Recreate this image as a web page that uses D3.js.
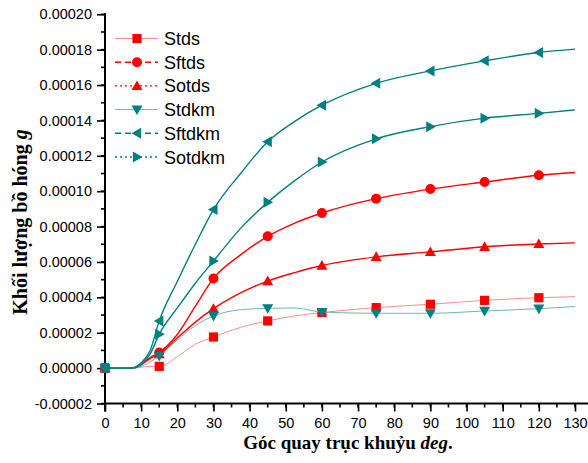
<!DOCTYPE html>
<html>
<head>
<meta charset="utf-8">
<script src="https://cdn.jsdelivr.net/npm/d3@7"></script>
<style>
    body { margin: 0; background: white; }
    svg { display: block; }
</style>
</head>
<body>
<div id="chart"></div>
<script>
"use strict";

// crank angle (deg) and soot mass (g) for each case
const angle = [0, 5, 7.5, 10, 12.5, 15, 20, 25, 30, 37.5, 45, 52.5, 60, 75, 90, 105, 120, 130];
const markerAngles = [0, 15, 30, 45, 60, 75, 90, 105, 120];

const stds   = [0, 0, 0, 0.05e-5, 0.1e-5, 0.1e-5, 0.65e-5, 1.35e-5, 1.76e-5, 2.3e-5, 2.67e-5, 2.95e-5, 3.14e-5, 3.42e-5, 3.61e-5, 3.83e-5, 3.98e-5, 4.04e-5];
const sftds  = [0, 0, 0, 0.2e-5, 0.6e-5, 0.88e-5, 1.9e-5, 3.5e-5, 5.07e-5, 6.4e-5, 7.45e-5, 8.2e-5, 8.77e-5, 9.58e-5, 10.12e-5, 10.52e-5, 10.9e-5, 11.06e-5];
const sotds  = [0, 0, 0, 0.2e-5, 0.55e-5, 0.79e-5, 1.7e-5, 2.6e-5, 3.36e-5, 4.25e-5, 4.92e-5, 5.4e-5, 5.8e-5, 6.29e-5, 6.57e-5, 6.86e-5, 7.02e-5, 7.08e-5];
const stdkm  = [0, 0, 0, 0.1e-5, 0.35e-5, 0.69e-5, 1.6e-5, 2.4e-5, 2.95e-5, 3.3e-5, 3.38e-5, 3.4e-5, 3.17e-5, 3.1e-5, 3.1e-5, 3.23e-5, 3.36e-5, 3.48e-5];
const sftdkm = [0, 0, 0, 0.3e-5, 1.0e-5, 2.67e-5, 4.9e-5, 7.0e-5, 8.96e-5, 11.0e-5, 12.8e-5, 13.95e-5, 14.86e-5, 16.1e-5, 16.8e-5, 17.37e-5, 17.84e-5, 18.03e-5];
const sotdkm = [0, 0, 0, 0.2e-5, 0.8e-5, 1.92e-5, 3.4e-5, 4.8e-5, 6.05e-5, 7.9e-5, 9.37e-5, 10.6e-5, 11.65e-5, 12.96e-5, 13.65e-5, 14.13e-5, 14.4e-5, 14.6e-5];

const seriesNames = ["Stds", "Sftds", "Sotds", "Stdkm", "Sftdkm", "Sotdkm"];

const xTicks = [0, 10, 20, 30, 40, 50, 60, 70, 80, 90, 100, 110, 120, 130];
const yTicks = [-0.00002, 0, 0.00002, 0.00004, 0.00006, 0.00008, 0.00010, 0.00012, 0.00014, 0.00016, 0.00018, 0.00020];

const msm = {
    width: 588,
    height: 463,
    left: 105,
    right: 575,
    top: 14.3,
    bottom: 403.5
}

const RED = "#ff0000";
const TEAL = "#008080";

const styles = [
    { color: RED,  line: "#ff8c8c", lw: 1,   dash: null,  shape: "square" },
    { color: RED,  line: RED,       lw: 1.4, dash: "6,4", shape: "circle" },
    { color: RED,  line: RED,       lw: 1.4, dash: "2,3", shape: "up" },
    { color: TEAL, line: "#6fb6b6", lw: 1,   dash: null,  shape: "down" },
    { color: TEAL, line: TEAL,      lw: 1.4, dash: "6,4", shape: "left" },
    { color: TEAL, line: TEAL,      lw: 1.4, dash: "2,3", shape: "right" }
];

let svg = d3.select("#chart")
    .append("svg")
    .attr("width", msm.width)
    .attr("height", msm.height);

let xScale = d3.scaleLinear().domain([0, 130]).range([msm.left, msm.right]);
let yScale = d3.scaleLinear().domain([-0.00002, 0.00020]).range([msm.bottom, msm.top]);

drawAxes();
drawSeries([stds, sftds, sotds, stdkm, sftdkm, sotdkm]);
drawLegend();
drawLabels();

function markerPath(shape, cx, cy) {
    let h = 5.5;
    if (shape == "square") {
        let s = 4.6;
        return `M${cx - s},${cy - s}H${cx + s}V${cy + s}H${cx - s}Z`;
    }
    if (shape == "circle") {
        let r = 5;
        return `M${cx - r},${cy}A${r},${r} 0 1,0 ${cx + r},${cy}A${r},${r} 0 1,0 ${cx - r},${cy}Z`;
    }
    if (shape == "up")    return `M${cx},${cy - h}L${cx + h},${cy + h * 0.75}L${cx - h},${cy + h * 0.75}Z`;
    if (shape == "down")  return `M${cx},${cy + h}L${cx + h},${cy - h * 0.75}L${cx - h},${cy - h * 0.75}Z`;
    if (shape == "left")  return `M${cx - h},${cy}L${cx + h * 0.75},${cy - h}L${cx + h * 0.75},${cy + h}Z`;
    return `M${cx + h},${cy}L${cx - h * 0.75},${cy - h}L${cx - h * 0.75},${cy + h}Z`;
}

function drawSeries(allSeries) {
    let line = d3.line()
        .x((d) => xScale(d.x))
        .y((d) => yScale(d.y))
        .curve(d3.curveMonotoneX);

    allSeries.forEach((values, i) => {
        let st = styles[i];
        let pts = angle.map((a, j) => ({ x: a, y: values[j] }));

        svg.append("path")
            .datum(pts)
            .attr("fill", "none")
            .attr("stroke", st.line)
            .attr("stroke-width", st.lw)
            .attr("d", line);

        svg.selectAll(".m" + i)
            .data(pts.filter((p) => markerAngles.includes(p.x)))
            .enter()
            .append("path")
            .attr("class", "m" + i)
            .attr("fill", st.color)
            .attr("d", (d) => markerPath(st.shape, xScale(d.x), yScale(d.y)));
    });
}

function drawAxes() {
    let minorX = d3.range(0, 131, 5);
    let minorY = d3.range(-2, 21, 1).map((k) => k * 0.00001);

    let xAxis = d3.axisBottom(xScale)
        .tickValues(xTicks)
        .tickSize(8)
        .tickFormat((d) => d);
    let gx = svg.append("g")
        .attr("transform", "translate(0," + msm.bottom + ")")
        .call(xAxis);
    gx.select(".domain").remove();
    gx.selectAll(".tick line").attr("stroke", "black").attr("stroke-width", 1.6);
    gx.selectAll(".tick text")
        .attr("y", 14)
        .style("font-family", "'Liberation Sans', Arial, sans-serif")
        .style("font-size", "14.5px")
        .attr("fill", "black");
    gx.selectAll(".minor")
        .data(minorX)
        .enter()
        .append("line")
        .attr("x1", (d) => xScale(d))
        .attr("x2", (d) => xScale(d))
        .attr("y1", 0)
        .attr("y2", 4)
        .attr("stroke", "black")
        .attr("stroke-width", 1.6);
    gx.append("line")
        .attr("x1", msm.left - 1)
        .attr("x2", msm.width)
        .attr("y1", 0)
        .attr("y2", 0)
        .attr("stroke", "black")
        .attr("stroke-width", 2);

    let yAxis = d3.axisLeft(yScale)
        .tickValues(yTicks)
        .tickSize(8)
        .tickFormat((d) => d.toFixed(5));
    let gy = svg.append("g")
        .attr("transform", "translate(" + msm.left + ",0)")
        .call(yAxis);
    gy.select(".domain").remove();
    gy.selectAll(".tick line").attr("stroke", "black").attr("stroke-width", 1.6);
    gy.selectAll(".tick text")
        .attr("x", -13)
        .style("font-family", "'Liberation Sans', Arial, sans-serif")
        .style("font-size", "14.5px")
        .attr("fill", "black");
    gy.selectAll(".minor")
        .data(minorY)
        .enter()
        .append("line")
        .attr("x1", -4)
        .attr("x2", 0)
        .attr("y1", (d) => yScale(d))
        .attr("y2", (d) => yScale(d))
        .attr("stroke", "black")
        .attr("stroke-width", 1.6);
    gy.append("line")
        .attr("x1", 0)
        .attr("x2", 0)
        .attr("y1", msm.top - 1)
        .attr("y2", msm.bottom + 8)
        .attr("stroke", "black")
        .attr("stroke-width", 2);
}

function drawLegend() {
    let lg = svg.append("g").attr("transform", "translate(115,38.5)");
    seriesNames.forEach((name, i) => {
        let st = styles[i];
        let y = i * 23.7;
        lg.append("line")
            .attr("x1", 0)
            .attr("x2", 43)
            .attr("y1", y)
            .attr("y2", y)
            .attr("stroke", st.line)
            .attr("stroke-width", st.lw)
            .attr("stroke-dasharray", st.dash);
        lg.append("path")
            .attr("fill", st.color)
            .attr("d", markerPath(st.shape, 22, y));
        lg.append("text")
            .attr("x", 49)
            .attr("y", y + 6.5)
            .style("font-family", "'Liberation Sans', Arial, sans-serif")
            .style("font-size", "18px")
            .text(name);
    });
}

function drawLabels() {
    let xl = svg.append("text")
        .attr("x", 348)
        .attr("y", 449)
        .attr("text-anchor", "middle")
        .style("font-family", "'Liberation Serif', 'Times New Roman', serif")
        .style("font-size", "19px")
        .style("font-weight", "bold");
    xl.append("tspan").text("Góc quay trục khuỷu ");
    xl.append("tspan").style("font-style", "italic").text("deg");
    xl.append("tspan").text(".");

    let yl = svg.append("text")
        .attr("transform", "translate(27,222) rotate(-90)")
        .attr("text-anchor", "middle")
        .style("font-family", "'Liberation Serif', 'Times New Roman', serif")
        .style("font-size", "20px")
        .style("font-weight", "bold");
    yl.append("tspan").text("Khối lượng bồ hóng ");
    yl.append("tspan").style("font-style", "italic").text("g");
}
</script>
</body>
</html>
